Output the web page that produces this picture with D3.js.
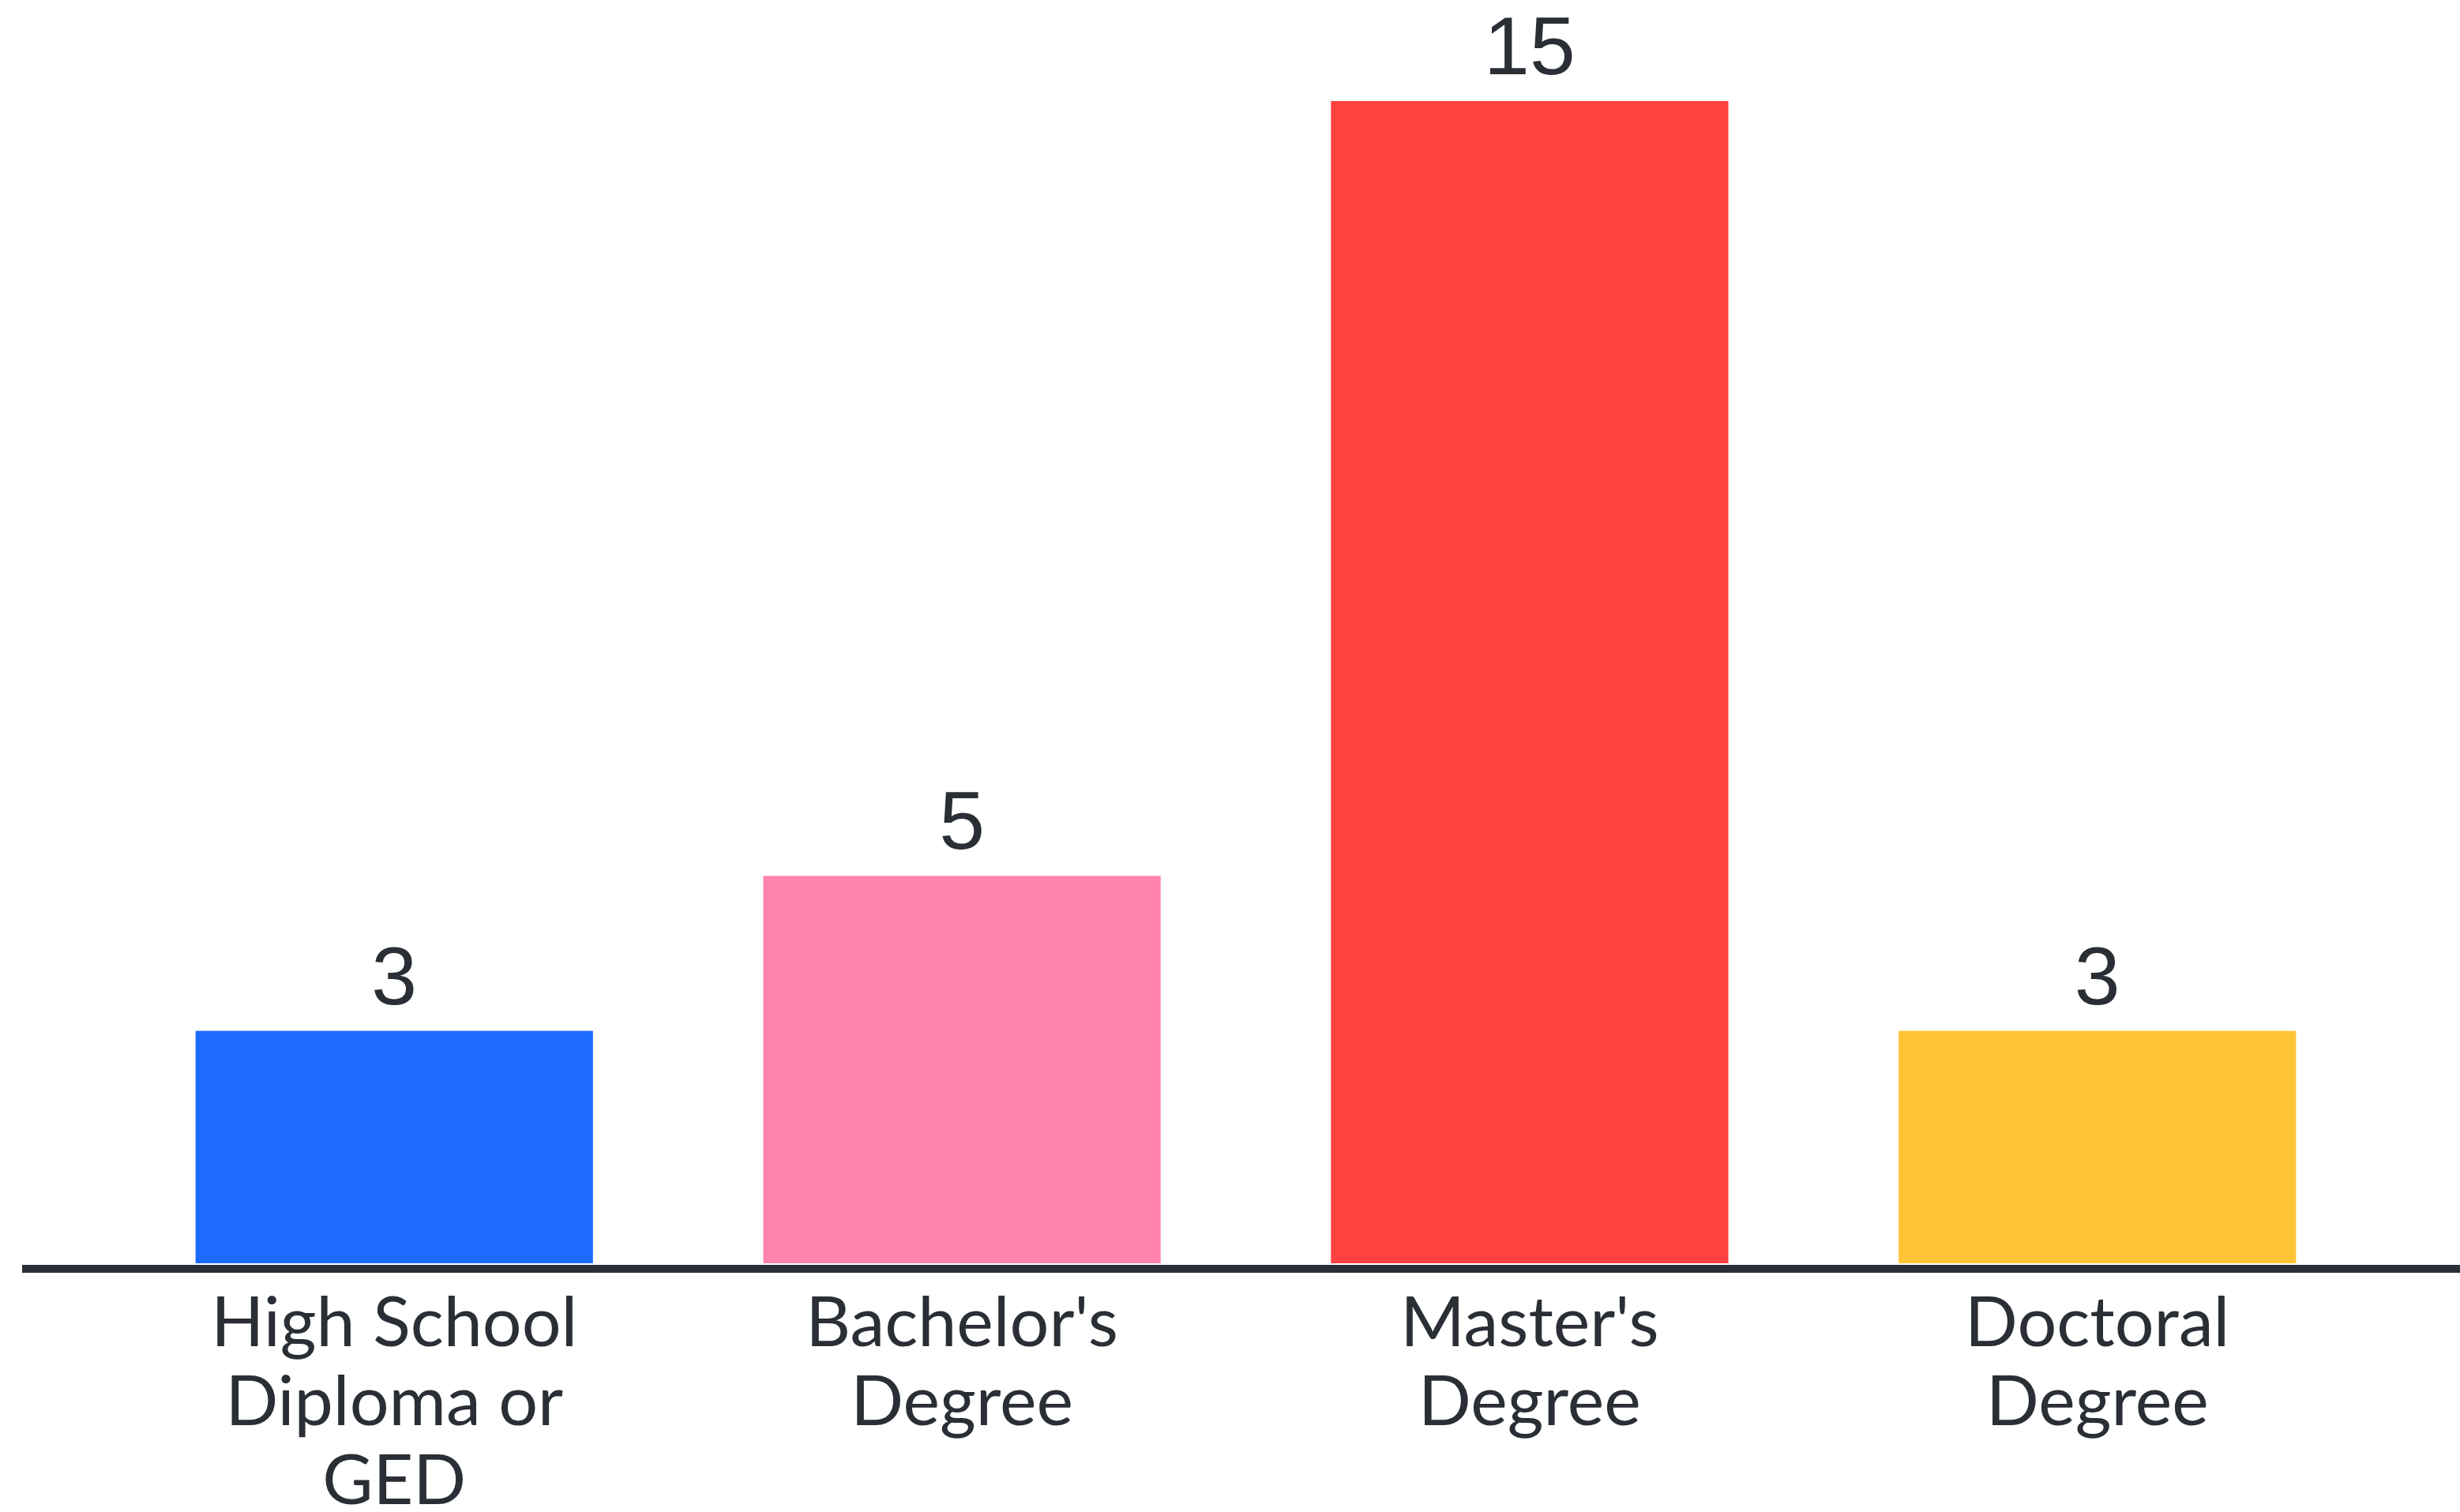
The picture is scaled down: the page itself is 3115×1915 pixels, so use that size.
<!DOCTYPE html>
<html>
<head>
<meta charset="utf-8">
<script src="https://cdn.jsdelivr.net/npm/d3@7"></script>
<style>
  html, body { margin: 0; padding: 0; background: #fff; }
  svg { display: block; }
  .value { font-family: "Liberation Sans", Arial, sans-serif; font-size: 104px; fill: #2a2e35; }
  .cat { font-family: Lato, "Noto Sans", sans-serif; font-size: 88px; fill: #2a2e35; }
</style>
</head>
<body>
<svg id="chart"></svg>
<script>
/* Education level bar chart. */

const categories = ["High School Diploma or GED", "Bachelor's Degree", "Master's Degree", "Doctoral Degree"];
const tickLabels = [["High School", "Diploma or", "GED"], ["Bachelor's", "Degree"], ["Master's", "Degree"], ["Doctoral", "Degree"]];
const counts = [3, 5, 15, 3];
const colors = ["#1c6afe", "#ff83ab", "#ff4140", "#fec436"];

const W = 3115, H = 1915;
const baseY = 1600;

const svg = d3.select("#chart").attr("width", W).attr("height", H);

const x = d3.scaleBand()
  .domain(categories)
  .range([32, 3123])
  .paddingInner(0.3)
  .paddingOuter(0.3);

const y = d3.scaleLinear()
  .domain([0, 15])
  .range([baseY, 128]);

const color = d3.scaleOrdinal().domain(categories).range(colors);

const rows = categories.map((c, i) => ({ cat: c, value: counts[i], lines: tickLabels[i] }));

svg.selectAll("rect.bar")
  .data(rows)
  .join("rect")
  .attr("class", "bar")
  .attr("x", (d) => x(d.cat))
  .attr("y", (d) => y(d.value))
  .attr("width", x.bandwidth())
  .attr("height", (d) => y(0) - y(d.value))
  .attr("fill", (d) => color(d.cat));

// baseline
svg.append("line")
  .attr("x1", 28)
  .attr("x2", W)
  .attr("y1", baseY + 7)
  .attr("y2", baseY + 7)
  .attr("stroke", "#2b2f37")
  .attr("stroke-width", 10);

svg.selectAll("text.value")
  .data(rows)
  .join("text")
  .attr("class", "value")
  .attr("x", (d) => x(d.cat) + x.bandwidth() / 2)
  .attr("y", (d) => y(d.value) - 34)
  .attr("text-anchor", "middle")
  .text((d) => d.value);

const cats = svg.selectAll("text.cat")
  .data(rows)
  .join("text")
  .attr("class", "cat")
  .attr("text-anchor", "middle")
  .attr("x", (d) => x(d.cat) + x.bandwidth() / 2)
  .attr("y", baseY + 105);

cats.selectAll("tspan")
  .data((d) => d.lines.map((t) => ({ t, cx: x(d.cat) + x.bandwidth() / 2 })))
  .join("tspan")
  .attr("x", (d) => d.cx)
  .attr("dy", (d, i) => (i === 0 ? 0 : 100))
  .text((d) => d.t);
</script>
</body>
</html>
